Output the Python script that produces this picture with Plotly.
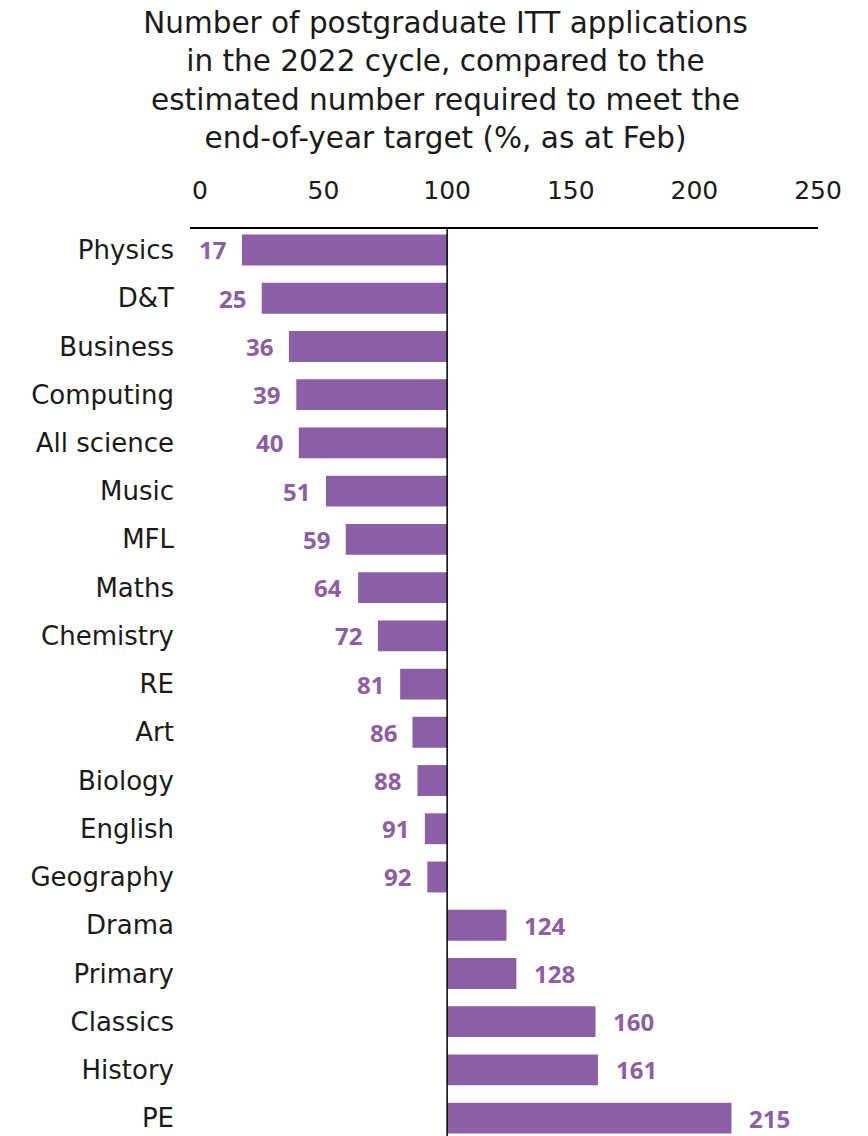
import plotly.graph_objects as go

subjects = ["Physics", "D&T", "Business", "Computing", "All science", "Music", "MFL",
            "Maths", "Chemistry", "RE", "Art", "Biology", "English", "Geography",
            "Drama", "Primary", "Classics", "History", "PE"]
pct_of_target = [17, 25, 36, 39, 40, 51, 59, 64, 72, 81, 86, 88, 91, 92,
                 124, 128, 160, 161, 215]
x_ticks = [0, 50, 100, 150, 200, 250]

PURPLE = "#8B5EA5"
TEXT = "#1a1a1a"
FONT = "DejaVu Sans"
LABEL_FONT = "Open Sans"
rows = list(range(len(subjects)))

# page body has an 8px margin, so the figure is 8px smaller than the window
W, H = 860, 1128

fig = go.Figure(go.Bar(
    y=rows,
    x=[v - 100 for v in pct_of_target],
    base=100,
    orientation="h",
    width=0.64,
    marker=dict(color=PURPLE, line=dict(width=0)),
    hoverinfo="skip",
))

for r, v in zip(rows, pct_of_target):
    fig.add_annotation(
        x=v, y=r, text=str(v), showarrow=False,
        xanchor="right" if v < 100 else "left",
        xshift=-14 if v < 100 else 16,
        font=dict(family=LABEL_FONT, size=24, color=PURPLE, weight="bold"),
    )

fig.add_shape(type="line", x0=100, x1=100, y0=0, y1=1, xref="x", yref="paper",
              line=dict(color="#000000", width=1.5))

fig.update_layout(
    width=W, height=H,
    paper_bgcolor="#FFFFFF", plot_bgcolor="#FFFFFF",
    margin=dict(l=182, r=50, t=221, b=0, autoexpand=False),
    showlegend=False,
    font=dict(family=FONT, color=TEXT),
    title=dict(
        text="Number of postgraduate ITT applications<br>in the 2022 cycle, compared to the<br>"
             "estimated number required to meet the<br>end-of-year target (%, as at Feb)",
        x=437.5 / W, xanchor="center",
        y=1 - 25 / H, yanchor="middle", yref="container",
        font=dict(family=FONT, size=29.5, color=TEXT),
    ),
    xaxis=dict(
        side="top", range=[-4, 250], tickvals=x_ticks,
        showgrid=False, zeroline=False,
        showline=True, linecolor="#000000", linewidth=1.5,
        ticks="", tickfont=dict(size=25, color=TEXT),
        ticklabelstandoff=18,
    ),
    yaxis=dict(
        range=[18.37, -0.435], tickvals=rows, ticktext=subjects,
        showgrid=False, zeroline=False, showline=False, ticks="",
        tickfont=dict(size=26, color=TEXT),
        ticklabelstandoff=15,
    ),
)

fig.write_html("out.html")
